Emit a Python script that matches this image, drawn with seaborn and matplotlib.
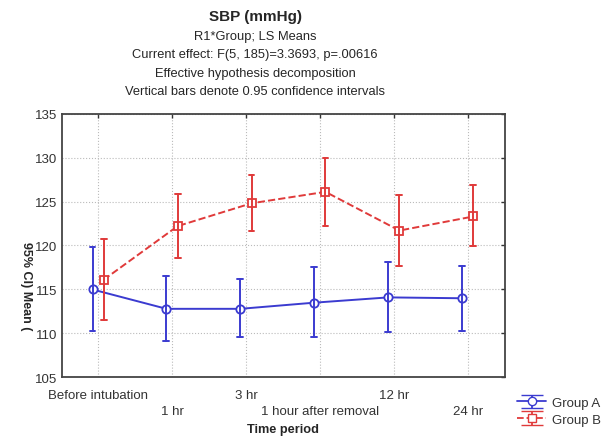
import numpy as np
import pandas as pd
import matplotlib
matplotlib.use("Agg")
import matplotlib.pyplot as plt
import seaborn as sns
from matplotlib.container import ErrorbarContainer
from matplotlib.lines import Line2D
from matplotlib.collections import LineCollection

# data (LS means and 95% CI limits)
periods = ["Before intubation", "1 hr", "3 hr", "1 hour after removal", "12 hr", "24 hr"]
groups = ["Group A", "Group B"]
mean_a = [115.0, 112.8, 112.8, 113.5, 114.1, 114.0]
low_a = [110.3, 109.1, 109.6, 109.6, 110.2, 110.3]
high_a = [119.8, 116.5, 116.2, 117.5, 118.1, 117.7]
mean_b = [116.1, 122.2, 124.8, 126.1, 121.7, 123.3]
low_b = [111.5, 118.6, 121.6, 122.2, 117.7, 119.9]
high_b = [120.7, 125.9, 128.0, 130.0, 125.7, 126.9]

blue = "#3b3bd0"
red = "#e03a3a"

# long table: mean and the two limits per point -> median = mean, 100% interval = CI
rows = []
for g, m, lo, hi in [(groups[0], mean_a, low_a, high_a), (groups[1], mean_b, low_b, high_b)]:
    for p, a, b, c in zip(periods, m, lo, hi):
        for v in (a, b, c):
            rows.append({"period": p, "group": g, "sbp": v})
df = pd.DataFrame(rows)

sns.set_style("white")
plt.rcParams["font.family"] = ["Liberation Sans", "DejaVu Sans"]

fig = plt.figure(figsize=(6.06, 4.39), dpi=100)
ax = fig.add_axes([0.102, 0.138, 0.731, 0.601])

sns.pointplot(data=df, x="period", y="sbp", hue="group", order=periods,
              hue_order=groups, palette=[blue, red], estimator="median",
              errorbar=("pi", 100), dodge=0.15, markers=["o", "s"],
              linestyles=["-", "--"], capsize=0.08, markersize=6,
              markerfacecolor="white", markeredgewidth=1.3, linewidth=1.4,
              err_kws={"linewidth": 1.4}, legend=False, ax=ax)

ax.set_xlim(-0.49, 5.5)
ax.set_ylim(105, 135)
ax.set_yticks(np.arange(105, 136, 5))
ax.set_xticks(range(len(periods)))
ax.set_xticklabels([("" if i % 2 == 0 else "\n") + p for i, p in enumerate(periods)],
                   fontsize=9.5, linespacing=1.5, color="#333333")
ax.tick_params(axis="y", labelsize=9.5, labelcolor="#333333")
ax.tick_params(axis="x", pad=8)
ax.tick_params(direction="in", length=3, top=True, right=True, width=1, color="#333333")
ax.grid(True, linestyle=":", color="#bbbbbb", linewidth=0.8)
for s in ax.spines.values():
    s.set_color("#444444")
    s.set_linewidth(1.3)

ax.set_xlabel("Time period", fontsize=9.2, fontweight="bold", labelpad=4)
ax.set_ylabel("95% CI) Mean (", fontsize=9, fontweight="bold", rotation=270)
ax.yaxis.set_label_coords(-0.095, 0.35)

fig.text(0.421, 0.952, "SBP (mmHg)", ha="center", fontsize=11, fontweight="bold")
subs = ["R1*Group; LS Means",
        "Current effect: F(5, 185)=3.3693, p=.00616",
        "Effective hypothesis decomposition",
        "Vertical bars denote 0.95 confidence intervals"]
for i, t in enumerate(subs):
    fig.text(0.421, 0.91 - i * 0.0425, t, ha="center", fontsize=9.3)

# legend styled like error-bar symbols
handles = []
for c, mk, ls in [(blue, "o", "-"), (red, "s", "--")]:
    line = Line2D([], [], color=c, marker=mk, linestyle=ls, markerfacecolor="white",
                  markersize=6, linewidth=1.3)
    caps = (Line2D([], [], color=c, marker="_", markersize=16, linestyle="none"),)
    bars = (LineCollection([], colors=c, linewidths=1.3),)
    handles.append(ErrorbarContainer((line, caps, bars), has_yerr=True))
fig.legend(handles, groups, loc="lower left", bbox_to_anchor=(0.834, 0.0),
           frameon=False, fontsize=9.5, handlelength=2.2, handletextpad=0.4,
           labelspacing=0.25, handleheight=1.0, labelcolor="#333333")

fig.savefig("out.png", dpi=100)
